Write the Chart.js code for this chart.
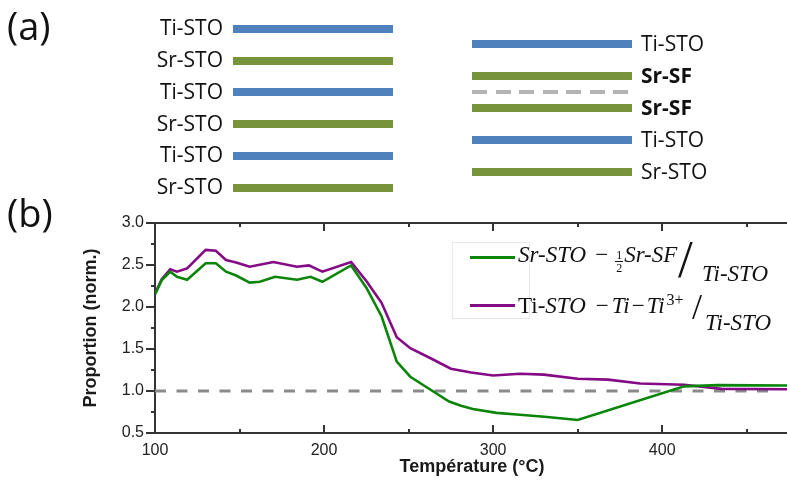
<!DOCTYPE html>
<html>
<head>
<meta charset="utf-8">
<script src="https://cdn.jsdelivr.net/npm/chart.js@4.4.0/dist/chart.umd.min.js"></script>
<style>
html,body{margin:0;padding:0;background:#fff;overflow:hidden;width:787px;height:481px;}
#wrap{position:absolute;left:0;top:0;width:800px;height:481px;}
#chart{position:absolute;left:0;top:0;}
.txt{position:absolute;white-space:nowrap;line-height:1;color:#111;}
.sch{font-family:"Open Sans";font-size:21px;}
.big{font-family:"Open Sans";font-size:38px;}
.bar{position:absolute;height:8px;}
.dash{position:absolute;height:4px;background:repeating-linear-gradient(90deg,#b4b4b4 0 15px,transparent 15px 23.5px);}
.ser{font-family:"Liberation Serif";font-size:23px;}
.frac{display:inline-flex;flex-direction:column;align-items:center;font-style:normal;font-size:12px;line-height:1;vertical-align:3px;margin:0 1px 0 0;}
.frac span:first-child{border-bottom:1px solid #111;padding:0 1px;}
.legbox{position:absolute;border:1px solid #e8e8e8;}
.legline{position:absolute;height:3px;}
</style>
</head>
<body>
<div id="wrap">
<canvas id="chart" width="800" height="481"></canvas>
<div id="overlay"></div>
</div>
<script>
// ---- data ----
const tempGreen = [100, 104, 109, 113, 119, 130, 136, 142, 148, 156, 162, 171, 184, 192, 199, 216, 225, 234, 243, 251, 263, 274, 281, 288, 302, 314, 332, 350, 413, 433, 475];
const propGreen = [2.15, 2.32, 2.42, 2.36, 2.325, 2.52, 2.52, 2.42, 2.375, 2.29, 2.30, 2.36, 2.325, 2.36, 2.30, 2.495, 2.23, 1.89, 1.35, 1.17, 1.015, 0.875, 0.825, 0.785, 0.74, 0.72, 0.69, 0.655, 1.055, 1.07, 1.065];
const tempPurple = [100, 104, 109, 113, 119, 130, 136, 142, 148, 156, 170, 184, 191, 199, 216, 225, 234, 243, 251, 263, 275, 287, 300, 316, 330, 350, 368, 387, 413, 435, 475];
const propPurple = [2.16, 2.33, 2.45, 2.42, 2.46, 2.68, 2.67, 2.56, 2.53, 2.48, 2.535, 2.48, 2.495, 2.42, 2.535, 2.31, 2.05, 1.64, 1.51, 1.39, 1.265, 1.22, 1.185, 1.205, 1.195, 1.145, 1.135, 1.09, 1.075, 1.025, 1.02];
const refTemp = [100, 463];
const refProp = [1.0, 1.0];
const xTickValues = [100, 200, 300, 400];
const xMinorValues = [150, 250, 350, 450];
const yTickValues = [0.5, 1.0, 1.5, 2.0, 2.5, 3.0];
const yMinorValues = [0.75, 1.25, 1.75, 2.25, 2.75];
const xTitle = 'Température (°C)';
const yTitle = 'Proportion (norm.)';
const leftStack = ['Ti-STO', 'Sr-STO', 'Ti-STO', 'Sr-STO', 'Ti-STO', 'Sr-STO'];
const rightStack = ['Ti-STO', 'Sr-SF', 'Sr-SF', 'Ti-STO', 'Sr-STO'];

const BLUE = '#4f81bd', OLIVE = '#77933c';
const GREEN = '#0a850a', PURPLE = '#850a85';

// ---- schematic (a) ----
const ov = document.getElementById('overlay');
function add(html){ ov.insertAdjacentHTML('beforeend', html); }
add('<div class="txt big" style="left:7px;top:6px">(a)</div>');
add('<div class="txt big" style="left:7px;top:193px">(b)</div>');
leftStack.forEach((lab, i) => {
  const yc = 28.7 + 31.8 * i;
  const col = lab.startsWith('Ti') ? BLUE : OLIVE;
  add(`<div class="bar" style="left:233px;width:160px;top:${yc-4}px;background:${col}"></div>`);
  add(`<div class="txt sch" style="right:${800-223}px;top:${yc-11.5}px;text-align:right">${lab}</div>`);
});
rightStack.forEach((lab, i) => {
  const yc = 44 + 32 * i;
  const col = lab.startsWith('Ti') ? BLUE : OLIVE;
  const bold = lab.endsWith('SF') ? 'font-weight:bold;' : '';
  add(`<div class="bar" style="left:472px;width:160px;top:${yc-4}px;background:${col}"></div>`);
  add(`<div class="txt sch" style="left:641px;top:${yc-11.5}px;${bold}">${lab}</div>`);
  if (i === 1) add(`<div class="dash" style="left:472px;width:160px;top:${yc+16-2}px"></div>`);
});

// ---- legend (HTML, math-like text) ----
add('<div class="legbox" style="left:452px;top:242px;width:76px;height:75px"></div>');
add(`<div class="legline" style="left:470px;width:45px;top:256px;background:${GREEN}"></div>`);
add(`<div class="legline" style="left:470px;width:45px;top:304px;background:${PURPLE}"></div>`);
add('<div class="txt ser" style="left:518px;top:243px"><i>Sr-STO</i><span style="margin:0 7px 0 9px">−</span><span class="frac"><span>1</span><span>2</span></span><i>Sr-SF</i></div>');
add('<div class="txt ser" style="left:678px;top:233px;font-size:53px">/</div>');
add('<div class="txt ser" style="left:702px;top:262px"><i>Ti-STO</i></div>');
add('<div class="txt ser" style="left:518px;top:292px">Ti-<i>STO</i><span style="margin:0 3px 0 10px">−</span><i>Ti</i><span style="margin:0 2px">−</span><i>Ti</i><sup style="font-size:16px;vertical-align:8px;margin-left:2px">3+</sup></div>');
add('<div class="txt ser" style="left:692px;top:289px;font-size:36px">/</div>');
add('<div class="txt ser" style="left:705px;top:311px"><i>Ti-STO</i></div>');

// ---- chart (b) ----
const toPts = (xs, ys) => xs.map((x, i) => ({x, y: ys[i]}));
const axisPlugin = {
  id: 'axisDecor',
  afterDraw(chart) {
    const {ctx, chartArea: {left, right, top, bottom}, scales: {x, y}} = chart;
    ctx.save();
    ctx.strokeStyle = '#333';
    ctx.lineWidth = 2;
    ctx.beginPath();
    ctx.moveTo(left - 1, top); ctx.lineTo(right, top);
    yTickValues.forEach(v => { const p = Math.round(y.getPixelForValue(v)); ctx.moveTo(left - 9, p); ctx.lineTo(left, p); });
    yMinorValues.forEach(v => { const p = Math.round(y.getPixelForValue(v)); ctx.moveTo(left - 4, p); ctx.lineTo(left, p); });
    xTickValues.forEach(v => { const p = Math.round(x.getPixelForValue(v));
      ctx.moveTo(p, bottom); ctx.lineTo(p, bottom - 8);
      ctx.moveTo(p, top); ctx.lineTo(p, top + 8); });
    xMinorValues.forEach(v => { const p = Math.round(x.getPixelForValue(v));
      ctx.moveTo(p, bottom); ctx.lineTo(p, bottom - 4);
      ctx.moveTo(p, top); ctx.lineTo(p, top + 4); });
    ctx.stroke();
    ctx.restore();
  }
};

new Chart(document.getElementById('chart'), {
  type: 'line',
  data: {
    datasets: [
      {label: 'ref', data: toPts(refTemp, refProp), borderColor: '#8a8a8a', borderWidth: 3, borderDash: [11, 10.5], order: 3},
      {label: 'Ti-STO − Ti−Ti3+ / Ti-STO', data: toPts(tempPurple, propPurple), borderColor: PURPLE, borderWidth: 2.6, order: 2},
      {label: 'Sr-STO − ½Sr-SF / Ti-STO', data: toPts(tempGreen, propGreen), borderColor: GREEN, borderWidth: 2.6, order: 1}
    ]
  },
  options: {
    responsive: false,
    animation: false,
    layout: {padding: {left: 78, top: 223, right: 11, bottom: 0}},
    plugins: {legend: {display: false}, tooltip: {enabled: false}},
    elements: {point: {radius: 0}, line: {tension: 0, fill: false}},
    scales: {
      x: {
        type: 'linear', min: 100, max: 475,
        afterBuildTicks: s => { s.ticks = xTickValues.map(v => ({value: v})); },
        afterFit: s => { s.height = 48; },
        grid: {display: false, drawTicks: false, tickLength: 0},
        border: {display: true, color: '#333', width: 2},
        ticks: {padding: 8, color: '#222', font: {family: 'Liberation Sans', size: 16}, maxRotation: 0, autoSkip: false},
        title: {display: true, text: xTitle, color: '#1a1a1a', font: {family: 'Liberation Sans', size: 18, weight: 'bold'}, padding: {top: 0, bottom: 3}}
      },
      y: {
        type: 'linear', min: 0.5, max: 3.0,
        afterBuildTicks: s => { s.ticks = yTickValues.map(v => ({value: v})); },
        afterFit: s => { s.width = 77; },
        grid: {display: false, drawTicks: false, tickLength: 0},
        border: {display: true, color: '#333', width: 2},
        ticks: {padding: 11, color: '#222', font: {family: 'Liberation Sans', size: 16}, callback: v => Number(v).toFixed(1)},
        title: {display: true, text: yTitle, color: '#1a1a1a', font: {family: 'Liberation Sans', size: 18, weight: 'bold'}, padding: {top: 2, bottom: 0}}
      }
    }
  },
  plugins: [axisPlugin]
});
</script>
</body>
</html>
